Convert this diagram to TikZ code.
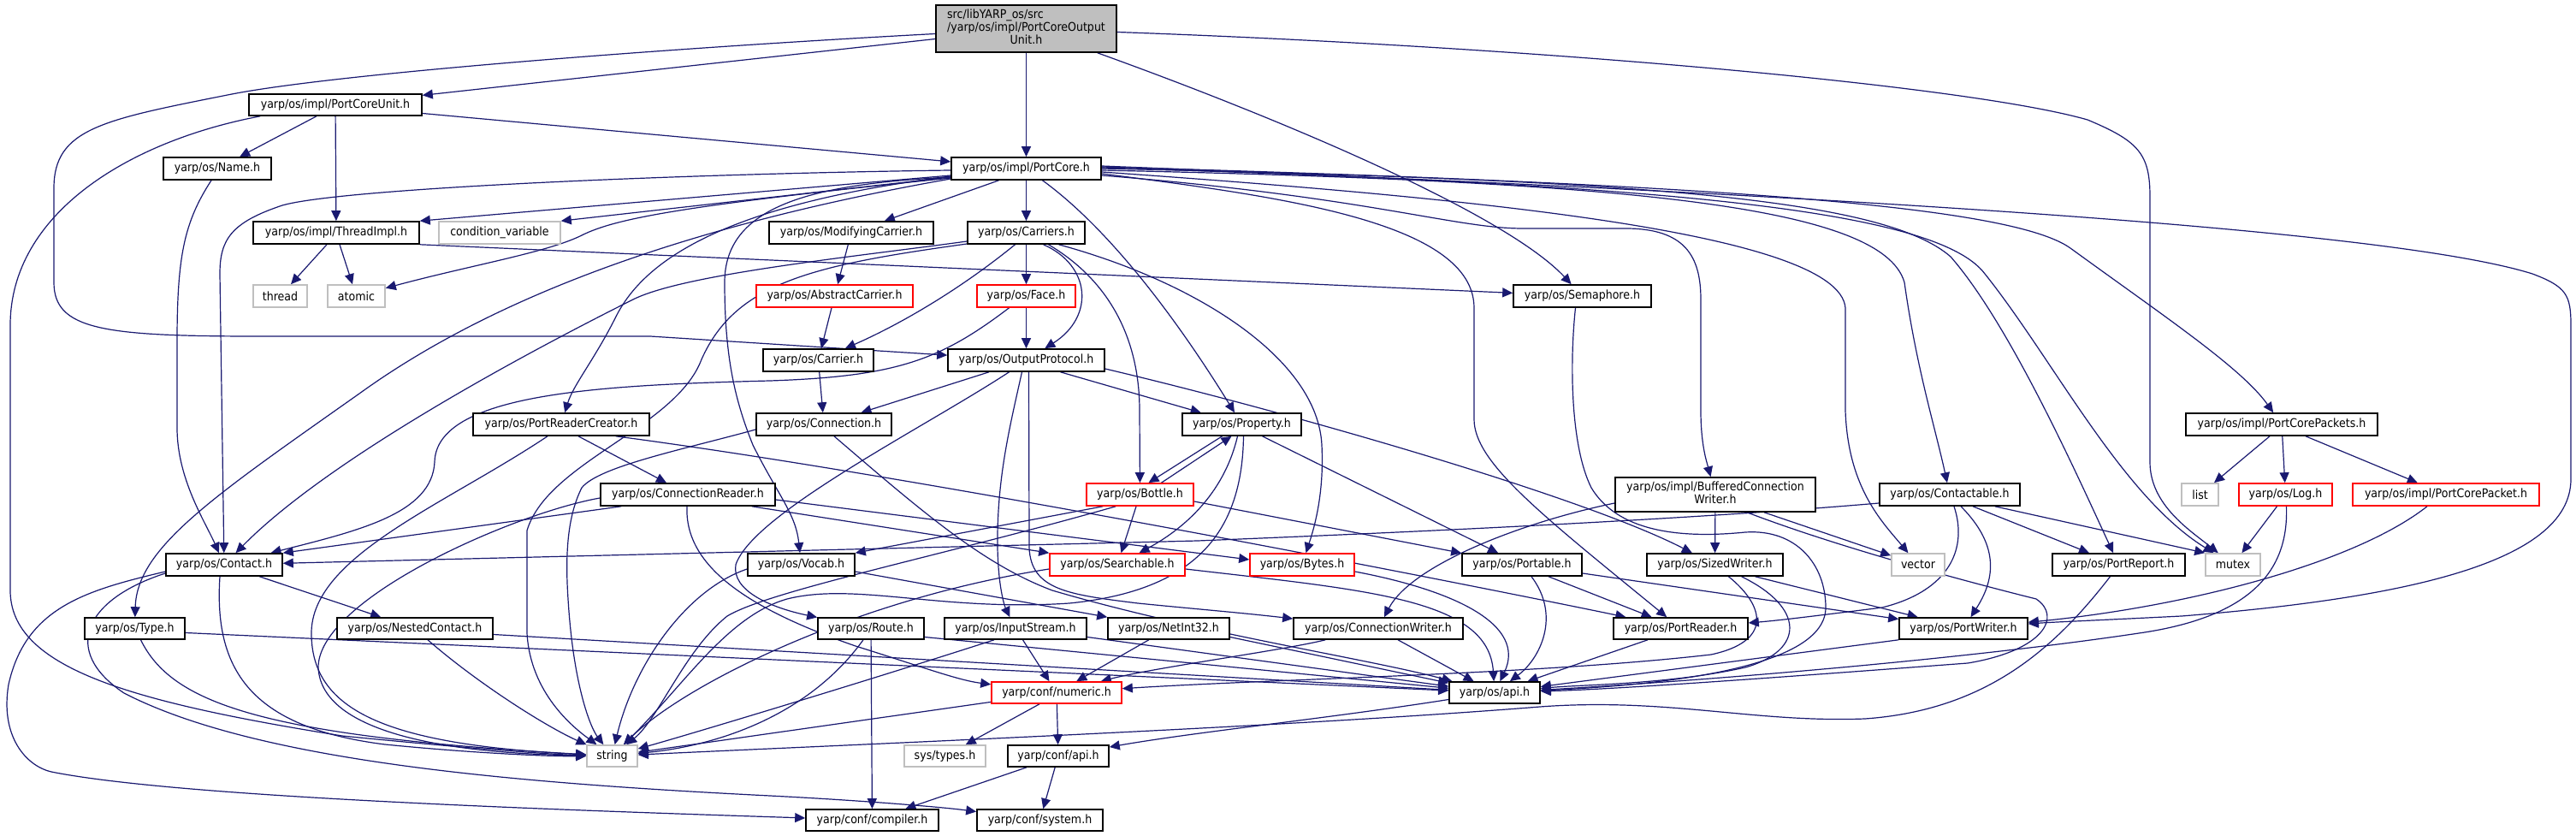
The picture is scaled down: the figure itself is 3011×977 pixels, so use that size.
\documentclass[tikz,border=0pt]{standalone}
\usepackage{fontspec}
\setmainfont{DejaVu Sans}[FakeStretch=0.9]
\usetikzlibrary{arrows.meta,calc}
\definecolor{edgec}{HTML}{191970}
\definecolor{greyn}{HTML}{BFBFBF}
\definecolor{redn}{HTML}{FF0000}
\pgfdeclarelayer{bg}
\pgfsetlayers{bg,main}
\newcommand\nd[7]{\node[#2,minimum width={(#4-#3)*0.5pt},minimum height={(#6-#5)*0.5pt}] (#1) at ({(#3+#4)/2},{(#5+#6)/2}) {#7};}
\tikzset{
  nb/.style={rectangle,inner sep=1pt,fill=white,line width=0.8pt,font=\fontsize{7}{8.4}\selectfont,text=black},
  docn/.style={nb,draw=black},
  extn/.style={nb,draw=greyn},
  redb/.style={nb,draw=redn},
  rootn/.style={nb,draw=black,fill=greyn},
  e/.style={draw=edgec,line width=0.6pt,-{Triangle[length=6pt,width=5.5pt]}}
}
\begin{document}
\begin{tikzpicture}[x=0.5pt,y=-0.5pt]
\useasboundingbox (0,0) rectangle (3011,977);
\begin{pgfonlayer}{bg}
\fill[white] (0,0) rectangle (3011,977);
\end{pgfonlayer}
% nodes
\nd{r}{rootn}{1094}{1305}{6}{61}{\def\arraystretch{0.86}\begin{tabular}{@{}l@{}}src/libYARP\_os/src\\/yarp/os/impl/PortCoreOutput\\\multicolumn{1}{@{}c@{}}{Unit.h}\end{tabular}}
\nd{pcu}{docn}{291}{493}{110}{135}{yarp/os/impl/PortCoreUnit.h}
\nd{name}{docn}{191}{317}{184}{210}{yarp/os/Name.h}
\nd{ti}{docn}{296}{490}{259}{285}{yarp/os/impl/ThreadImpl.h}
\nd{cv}{extn}{513}{655}{259}{285}{condition\_variable}
\nd{thread}{extn}{296}{359}{333}{359}{thread}
\nd{atomic}{extn}{383}{450}{333}{359}{atomic}
\nd{prc}{docn}{553}{759}{483}{509}{yarp/os/PortReaderCreator.h}
\nd{pc}{docn}{1112}{1287}{184}{210}{yarp/os/impl/PortCore.h}
\nd{mc}{docn}{899}{1091}{259}{285}{yarp/os/ModifyingCarrier.h}
\nd{cs}{docn}{1131}{1268}{259}{285}{yarp/os/Carriers.h}
\nd{ac}{redb}{884}{1067}{333}{359}{yarp/os/AbstractCarrier.h}
\nd{face}{redb}{1142}{1257}{333}{359}{yarp/os/Face.h}
\nd{carrier}{docn}{892}{1021}{408}{434}{yarp/os/Carrier.h}
\nd{op}{docn}{1108}{1291}{408}{434}{yarp/os/OutputProtocol.h}
\nd{conn}{docn}{884}{1042}{483}{509}{yarp/os/Connection.h}
\nd{prop}{docn}{1382}{1521}{483}{509}{yarp/os/Property.h}
\nd{sem}{docn}{1769}{1930}{333}{359}{yarp/os/Semaphore.h}
\nd{pcp}{docn}{2555}{2779}{483}{509}{yarp/os/impl/PortCorePackets.h}
\nd{cr}{docn}{702}{906}{565}{591}{yarp/os/ConnectionReader.h}
\nd{bottle}{redb}{1270}{1395}{565}{591}{yarp/os/Bottle.h}
\nd{bcw}{docn}{1888}{2122}{558}{598}{\def\arraystretch{0.86}\begin{tabular}{@{}l@{}}yarp/os/impl/BufferedConnection\\\multicolumn{1}{@{}c@{}}{Writer.h}\end{tabular}}
\nd{cbl}{docn}{2197}{2361}{565}{591}{yarp/os/Contactable.h}
\nd{list}{extn}{2550}{2593}{565}{591}{list}
\nd{log}{redb}{2617}{2726}{565}{591}{yarp/os/Log.h}
\nd{pcpk}{redb}{2750}{2968}{565}{591}{yarp/os/impl/PortCorePacket.h}
\nd{contact}{docn}{194}{330}{647}{673}{yarp/os/Contact.h}
\nd{vocab}{docn}{874}{999}{647}{673}{yarp/os/Vocab.h}
\nd{search}{redb}{1227}{1385}{647}{673}{yarp/os/Searchable.h}
\nd{bytes}{redb}{1461}{1583}{647}{673}{yarp/os/Bytes.h}
\nd{portable}{docn}{1709}{1849}{647}{673}{yarp/os/Portable.h}
\nd{sw}{docn}{1925}{2084}{647}{673}{yarp/os/SizedWriter.h}
\nd{vector}{extn}{2211}{2273}{647}{673}{vector}
\nd{report}{docn}{2399}{2554}{647}{673}{yarp/os/PortReport.h}
\nd{mutex}{extn}{2578}{2642}{647}{673}{mutex}
\nd{type}{docn}{99}{216}{722}{747}{yarp/os/Type.h}
\nd{nested}{docn}{394}{576}{722}{747}{yarp/os/NestedContact.h}
\nd{route}{docn}{956}{1080}{722}{747}{yarp/os/Route.h}
\nd{istream}{docn}{1104}{1270}{722}{747}{yarp/os/InputStream.h}
\nd{netint}{docn}{1295}{1437}{722}{747}{yarp/os/NetInt32.h}
\nd{cw}{docn}{1512}{1710}{722}{747}{yarp/os/ConnectionWriter.h}
\nd{preader}{docn}{1886}{2043}{722}{747}{yarp/os/PortReader.h}
\nd{pwriter}{docn}{2220}{2370}{722}{747}{yarp/os/PortWriter.h}
\nd{numeric}{redb}{1159}{1311}{797}{822}{yarp/conf/numeric.h}
\nd{api}{docn}{1694}{1800}{797}{822}{yarp/os/api.h}
\nd{string}{extn}{686}{745}{871}{896}{string}
\nd{systypes}{extn}{1057}{1152}{871}{896}{sys/types.h}
\nd{confapi}{docn}{1178}{1296}{871}{896}{yarp/conf/api.h}
\nd{compiler}{docn}{942}{1097}{946}{971}{yarp/conf/compiler.h}
\nd{system}{docn}{1142}{1289}{946}{971}{yarp/conf/system.h}
\begin{pgfonlayer}{bg}
% root
\draw[e] ($(r.west)+(0,12)$) -- (pcu);
\draw[e] (r) -- (pc);
\draw[e] ($(r.west)+(0,6)$) .. controls (800,55) and (400,85) .. (271,110) .. controls (120,140) and (63,150) .. (63,220) -- (63,330) .. controls (63,385) and (120,393) .. (300,393) -- (760,393) -- (op);
\draw[e] ($(r.south east)+(-23,0)$) .. controls (1500,140) and (1760,250) .. (sem);
\draw[e] ($(r.east)+(0,4)$) .. controls (1800,55) and (2300,100) .. (2440,140) .. controls (2500,165) and (2513,180) .. (2513,230) -- (2513,540) .. controls (2513,590) and (2560,620) .. (mutex);
% PortCoreUnit
\draw[e] ($(pcu.south)+(-22,0)$) -- (name);
\draw[e] (pcu) -- (ti);
\draw[e] ($(pcu.east)+(0,10)$) -- (pc);
\draw[e] ($(pcu.south west)+(14,0)$) .. controls (150,165) and (12,250) .. (12,380) -- (12,690) .. controls (12,780) and (150,820) .. (400,860) .. controls (550,875) and (650,882) .. (string);
% Name
\draw[e] ($(name.south)+(-7,0)$) .. controls (215,260) and (207,300) .. (207,400) -- (207,500) .. controls (207,560) and (240,610) .. (contact);
% ThreadImpl
\draw[e] ($(ti.south)+(-11,0)$) -- (thread);
\draw[e] ($(ti.south)+(4,0)$) -- (atomic);
\draw[e] (ti.south east) -- (sem);
% PortCore
\draw[e] ($(pc.west)+(0,2)$) .. controls (800,203) and (400,220) .. (330,240) .. controls (270,260) and (257,280) .. (257,320) -- (contact);
\draw[e] ($(pc.west)+(0,8)$) -- (ti.north east);
\draw[e] ($(pc.west)+(0,10)$) -- (cv.north east);
\draw[e] ($(pc.west)+(0,11)$) .. controls (800,240) and (720,255) .. (680,275) .. controls (640,295) and (550,310) .. (atomic);
\draw[e] ($(pc.west)+(0,12)$) .. controls (850,255) and (600,330) .. (420,460) .. controls (250,580) and (160,640) .. (type);
\draw[e] ($(pc.west)+(0,9)$) .. controls (880,235) and (760,290) .. (720,370) .. controls (695,420) and (670,450) .. (prc);
\draw[e] ($(pc.south)+(-32,0)$) -- (mc);
\draw[e] (pc) -- (cs);
\draw[e] ($(pc.west)+(0,10)$) .. controls (950,215) and (847,240) .. (847,330) .. controls (847,420) and (860,470) .. (880,520) .. controls (910,580) and (930,600) .. (vocab);
\draw[e] ($(pc.south)+(19,0)$) .. controls (1300,270) and (1380,380) .. (prop);
\draw[e] ($(pc.east)+(0,6)$) .. controls (1500,230) and (1723,260) .. (1723,360) -- (1723,490) .. controls (1723,540) and (1800,600) .. (preader);
\draw[e] ($(pc.east)+(0,8)$) .. controls (1600,230) and (1700,267) .. (1780,267) -- (1900,267) .. controls (1970,267) and (1988,300) .. (1988,350) -- (1988,480) .. controls (1988,520) and (1995,540) .. (bcw);
\draw[e] ($(pc.east)+(0,4)$) .. controls (1700,230) and (2150,270) .. (2157,360) -- (2157,480) .. controls (2160,570) and (2200,610) .. (vector);
\draw[e] ($(pc.east)+(0,2)$) .. controls (1900,212) and (2200,240) .. (2226,330) .. controls (2240,430) and (2262,500) .. (cbl);
\draw[e] (pc.east) .. controls (1900,210) and (2200,230) .. (2280,300) .. controls (2350,380) and (2430,560) .. (report);
\draw[e] ($(pc.east)+(0,-1)$) .. controls (1900,215) and (2260,240) .. (2320,320) .. controls (2400,420) and (2480,580) .. (mutex);
\draw[e] ($(pc.east)+(0,-2)$) .. controls (2000,215) and (2350,240) .. (2420,290) .. controls (2530,370) and (2620,430) .. (pcp);
\draw[e] ($(pc.east)+(0,-3)$) .. controls (2200,230) and (2800,270) .. (2960,320) .. controls (3000,335) and (3005,345) .. (3005,380) -- (3005,560) .. controls (3005,660) and (2800,700) .. (2550,720) .. controls (2450,725) and (2400,727) .. (pwriter);
% carriers family
\draw[e] (mc) -- (ac);
\draw[e] (ac) -- (carrier);
\draw[e] ($(cs.south)+(-13,0)$) .. controls (1120,340) and (1050,380) .. (carrier);
\draw[e] (cs) -- (face);
\draw[e] ($(cs.south)+(20,0)$) .. controls (1275,310) and (1280,370) .. (op);
\draw[e] ($(cs.south)+(26,0)$) .. controls (1300,330) and (1332,400) .. (1332,480) -- (bottle);
\draw[e] ($(cs.south)+(38,0)$) .. controls (1400,330) and (1540,420) .. (1545,520) .. controls (1548,580) and (1535,620) .. (bytes);
\draw[e] ($(cs.west)+(0,10)$) .. controls (1000,300) and (800,320) .. (740,350) .. controls (600,420) and (380,540) .. (contact);
\draw[e] ($(cs.west)+(0,13)$) .. controls (950,310) and (860,330) .. (820,420) .. controls (790,500) and (640,540) .. (616,620) -- (616,740) .. controls (620,810) and (670,850) .. (string);
\draw[e] (face) -- (op);
\draw[e] ($(face.south)+(-20,0)$) .. controls (1100,420) and (1050,440) .. (900,445) .. controls (700,450) and (510,460) .. (508,540) .. controls (505,600) and (420,620) .. (contact);
\draw[e] (carrier) -- (conn);
% OutputProtocol
\draw[e] (op) -- (conn);
\draw[e] ($(op.south)+(-20,0)$) .. controls (1080,500) and (880,600) .. (860,660) .. controls (855,690) and (900,710) .. (route);
\draw[e] ($(op.south)+(-5,0)$) .. controls (1180,500) and (1165,560) .. (1166,640) .. controls (1167,690) and (1175,710) .. (istream);
\draw[e] ($(op.south)+(3,0)$) -- (1203,640) .. controls (1205,690) and (1250,695) .. (1330,705) .. controls (1400,712) and (1450,716) .. (cw);
\draw[e] ($(op.south)+(40,0)$) -- (prop);
\draw[e] ($(op.east)+(0,10)$) .. controls (1500,480) and (1850,580) .. (sw);
% Semaphore
\draw[e] ($(sem.south)+(-8,0)$) .. controls (1835,420) and (1835,520) .. (1860,570) .. controls (1890,620) and (1960,630) .. (2040,622) .. controls (2100,618) and (2134,660) .. (2134,710) .. controls (2134,780) and (1950,800) .. (api);
% Connection
\draw[e] ($(conn.west)+(0,6)$) .. controls (800,525) and (700,545) .. (680,570) .. controls (665,600) and (660,640) .. (664,700) .. controls (670,800) and (690,850) .. (string);
\draw[e] ($(conn.south)+(12,0)$) .. controls (1080,600) and (1150,660) .. (1230,690) .. controls (1400,740) and (1600,770) .. (api);
% Property / Bottle
\draw[e] ($(prop.south)+(-23,0)$) -- ($(bottle.north)+(10,0)$);
\draw[e] ($(bottle.north)+(25,0)$) -- ($(prop.south)+(-12,0)$);
\draw[e] ($(prop.south)+(-5,0)$) .. controls (1430,580) and (1380,620) .. (search);
\draw[e] ($(prop.south)+(24,0)$) -- (portable);
\draw[e] ($(prop.south)+(2,0)$) .. controls (1452,620) and (1400,690) .. (1250,705) .. controls (1100,715) and (1000,680) .. (920,700) .. controls (850,720) and (800,800) .. (string);
\draw[e] (bottle) -- (search);
\draw[e] ($(bottle.south west)+(20,0)$) -- (vocab.north east);
\draw[e] ($(bottle.south west)+(35,0)$) .. controls (1100,650) and (900,690) .. (850,720) .. controls (800,760) and (770,840) .. (string);
\draw[e] ($(bottle.east)+(0,8)$) -- (portable);
% Searchable, Bytes, Vocab
\draw[e] ($(search.east)+(0,5)$) .. controls (1600,690) and (1740,700) .. (api);
\draw[e] ($(search.west)+(0,5)$) .. controls (1000,700) and (800,800) .. (string);
\draw[e] ($(bytes.east)+(0,8)$) .. controls (1700,690) and (1785,730) .. (api);
\draw[e] ($(vocab.east)+(0,8)$) -- (netint.north west);
\draw[e] ($(vocab.west)+(0,5)$) .. controls (800,690) and (740,780) .. (string);
% Route, InputStream, NetInt32
\draw[e] ($(route.south)+(-9,0)$) .. controls (950,830) and (850,870) .. (string);
\draw[e] (route) -- (compiler);
\draw[e] ($(route.east)+(0,10)$) -- (api);
\draw[e] ($(istream.south)+(-25,0)$) .. controls (1000,800) and (800,860) .. (string);
\draw[e] (istream) -- (numeric);
\draw[e] ($(istream.east)+(0,10)$) -- (api);
\draw[e] (netint) -- (numeric);
\draw[e] ($(netint.east)+(0,10)$) -- (api);
% numeric, conf
\draw[e] (numeric) -- (string);
\draw[e] ($(numeric.south)+(-20,0)$) -- (systypes);
\draw[e] (numeric) -- (confapi);
\draw[e] ($(confapi.south)+(-37,0)$) -- (compiler);
\draw[e] (confapi) -- (system);
\draw[e] ($(api.west)+(0,8)$) .. controls (1550,840) and (1400,855) .. (confapi);
% Contact, Type, Nested
\draw[e] (contact) -- (nested);
\draw[e] ($(contact.south)+(-5,0)$) .. controls (250,780) and (290,850) .. (450,870) .. controls (550,880) and (640,884) .. (string);
\draw[e] ($(contact.west)+(0,8)$) .. controls (100,690) and (30,710) .. (10,800) .. controls (0,860) and (30,895) .. (60,902) .. controls (200,930) and (600,945) .. (compiler);
\draw[e] ($(contact.west)+(0,10)$) .. controls (100,700) and (70,760) .. (145,810) .. controls (300,890) and (600,915) .. (900,930) .. controls (1000,935) and (1100,943) .. (system);
\draw[e] ($(type.south)+(7,0)$) .. controls (200,820) and (300,860) .. (string);
\draw[e] ($(type.east)+(0,5)$) -- (api);
\draw[e] ($(nested.south)+(15,0)$) .. controls (560,800) and (640,850) .. (string);
\draw[e] ($(nested.east)+(0,7)$) -- (api);
% PortReaderCreator, ConnectionReader
\draw[e] ($(prc.south east)+(-40,0)$) .. controls (1100,560) and (1750,690) .. (preader);
\draw[e] ($(prc.south)+(20,0)$) -- ($(cr.north)+(-25,0)$);
\draw[e] ($(prc.south)+(-16,0)$) .. controls (520,590) and (364,650) .. (364,740) .. controls (364,830) and (450,870) .. (string);
\draw[e] ($(cr.west)+(0,4)$) .. controls (600,600) and (372,700) .. (372,780) .. controls (375,850) and (500,880) .. (string);
\draw[e] ($(cr.south west)+(25,0)$) -- (contact.north east);
\draw[e] ($(cr.south east)+(-28,0)$) -- (search.north west);
\draw[e] ($(cr.east)+(0,6)$) -- ($(bytes.west)+(0,-6)$);
\draw[e] ($(cr.south)+(-1,0)$) .. controls (800,660) and (870,710) .. (1000,755) .. controls (1080,780) and (1120,795) .. (numeric);
% Contactable
\draw[e] ($(cbl.west)+(0,10)$) .. controls (2000,605) and (1700,620) .. (1400,632) -- (contact);
\draw[e] ($(cbl.south)+(5,0)$) .. controls (2300,640) and (2280,690) .. (2200,710) .. controls (2120,720) and (2080,725) .. (preader);
\draw[e] ($(cbl.south)+(13,0)$) .. controls (2340,640) and (2330,680) .. (pwriter);
\draw[e] ($(cbl.south)+(27,0)$) -- (report);
\draw[e] ($(cbl.south east)+(-30,0)$) -- (mutex.north west);
% PortCorePackets and co
\draw[e] ($(pcp.south)+(-14,0)$) -- (list);
\draw[e] (pcp) -- (log);
\draw[e] ($(pcp.south)+(28,0)$) -- (pcpk);
\draw[e] ($(log.south)+(-10,0)$) -- (mutex);
\draw[e] ($(log.south)+(1,0)$) .. controls (2675,660) and (2640,720) .. (2500,740) .. controls (2300,770) and (2000,795) .. (api);
\draw[e] ($(pcpk.south)+(-22,0)$) .. controls (2750,660) and (2550,710) .. (pwriter);
\draw[e] ($(report.south)+(-10,0)$) .. controls (2400,760) and (2320,830) .. (2180,840) .. controls (2050,845) and (1950,815) .. (1800,826) .. controls (1500,850) and (1000,870) .. (string);
% Portable, PortReader, PortWriter, SizedWriter
\draw[e] ($(portable.south)+(11,0)$) .. controls (1825,720) and (1800,770) .. (api);
\draw[e] ($(portable.south)+(31,0)$) -- (preader);
\draw[e] ($(portable.east)+(0,10)$) -- (pwriter);
\draw[e] (preader) -- (api);
\draw[e] (pwriter.south west) -- (api);
\draw[e] ($(sw.south)+(47,0)$) -- (pwriter);
\draw[e] ($(sw.south)+(16,0)$) .. controls (2065,710) and (2070,750) .. (2000,765) .. controls (1800,788) and (1500,793) .. (numeric);
\draw[e] ($(sw.south)+(31,0)$) .. controls (2110,710) and (2110,760) .. (2040,780) .. controls (1950,800) and (1850,800) .. (api);
% BufferedConnectionWriter, ConnectionWriter
\draw[e] ($(bcw.west)+(0,10)$) .. controls (1780,610) and (1650,660) .. (cw);
\draw[e] (bcw) -- (sw);
\draw[e] ($(bcw.south)+(57,0)$) -- (vector);
\draw[e] ($(bcw.south)+(37,0)$) .. controls (2150,640) and (2300,680) .. (2380,700) .. controls (2410,720) and (2390,760) .. (2300,775) .. controls (2100,790) and (1900,805) .. (api);
\draw[e] ($(cw.south west)+(38,0)$) .. controls (1500,760) and (1350,780) .. (numeric);
\draw[e] ($(cw.south)+(23,0)$) -- (api);
\end{pgfonlayer}
\end{tikzpicture}
\end{document}
